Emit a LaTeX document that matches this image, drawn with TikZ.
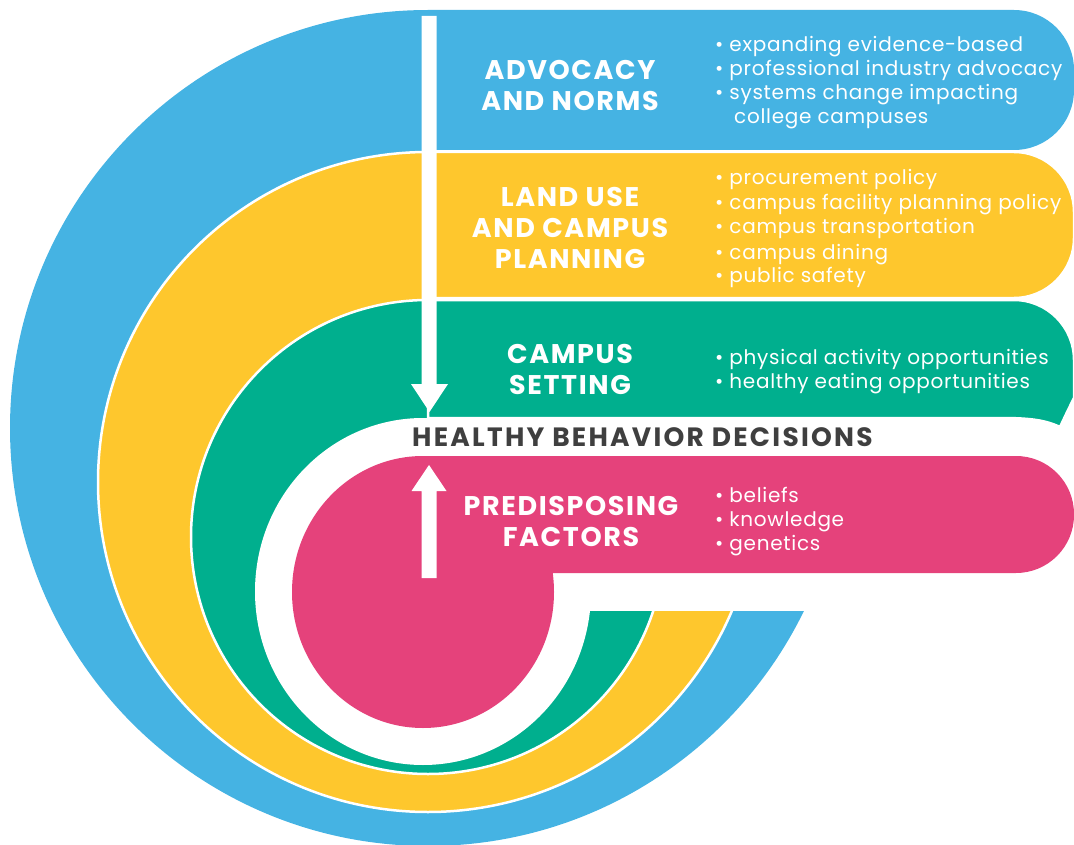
\documentclass[tikz,border=0pt]{standalone}
\usepackage{fontspec}
\setmainfont{Poppins}
\definecolor{cblue}{HTML}{45B3E3}
\definecolor{cyellow}{HTML}{FEC72D}
\definecolor{cgreen}{HTML}{00AF8E}
\definecolor{cpink}{HTML}{E5427B}
\definecolor{cdark}{HTML}{3F3F3F}
\begin{document}
\begin{tikzpicture}[x=1pt,y=-1pt,
  hdr/.style={font=\fontsize{27}{31}\selectfont\bfseries\addfontfeature{LetterSpace=6}, text=white, anchor=base, inner sep=0pt},
  bul/.style={font=\fontsize{20}{24}\selectfont\addfontfeature{LetterSpace=3.5}, text=white, anchor=base west, inner sep=0pt},
  outl/.style={draw=white, line width=2.5pt}]
\useasboundingbox (0,0) rectangle (1074,845);
% ---------- blue layer ----------
\begin{scope}
  \clip (-50,-50) -- (428,-50) -- (428,611) -- (1200,611) -- (1200,900) -- (-50,900) -- cycle;
  \fill[cblue] (428,428) circle[radius=418];
\end{scope}
\fill[cblue] (428,10) -- (1014,10) arc[start angle=-90,end angle=0,radius=60] -- (1074,90) arc[start angle=0,end angle=90,radius=60] -- (428,150) -- cycle;
% ---------- yellow layer ----------
\begin{scope}
  \clip (-50,-50) -- (428,-50) -- (428,611) -- (1200,611) -- (1200,900) -- (-50,900) -- cycle;
  \filldraw[cyellow, outl] (428,482) circle[radius=330];
\end{scope}
\filldraw[fill=cyellow, outl] (428,152) -- (1014,152) arc[start angle=-90,end angle=0,radius=60] -- (1074,238) arc[start angle=0,end angle=90,radius=60] -- (428,298) -- cycle;
% ---------- green layer ----------
\begin{scope}
  \clip (-50,-50) -- (428,-50) -- (428,611) -- (1200,611) -- (1200,900) -- (-50,900) -- cycle;
  \filldraw[fill=cgreen, outl] (428,537) circle[radius=237];
\end{scope}
\filldraw[fill=cgreen, outl] (428,300) -- (1014,300) arc[start angle=-90,end angle=0,radius=60] -- (1074,398) .. controls (1068,410) .. (1060,427) .. controls (1045,420) and (1030,418) .. (1000,418) -- (428,418) -- cycle;
% ---------- white hole ----------
\fill[white] (423,591.5) ellipse[x radius=168, y radius=173.5];
% ---------- pink layer ----------
\fill[cpink] (423,592) ellipse[x radius=131, y radius=136];
\fill[cpink] (423,456) -- (1016,456) arc[start angle=-90,end angle=0,radius=58] -- (1074,515) arc[start angle=0,end angle=90,radius=58] -- (423,573) -- cycle;
% ---------- arrows ----------
\fill[white] (421.5,16) -- (436.5,16) -- (436.5,384) -- (448,384) -- (429.5,412) -- (411,384) -- (421.5,384) -- cycle;
\fill[white] (421.5,578) -- (436.5,578) -- (436.5,491) -- (446.5,491) -- (429,465) -- (411.5,491) -- (421.5,491) -- cycle;
% ---------- headers ----------
\node[hdr] (h1a) at (570,80) {ADVOCACY};
\node[hdr] (h1b) at (570,111) {AND NORMS};
\node[hdr] (h2a) at (570,207) {LAND USE};
\node[hdr] (h2b) at (570,238) {AND CAMPUS};
\node[hdr] (h2c) at (570,269) {PLANNING};
\node[hdr] (h3a) at (570,363) {CAMPUS};
\node[hdr] (h3b) at (570,394) {SETTING};
\node[hdr] (h4a) at (571,515) {PREDISPOSING};
\node[hdr] (h4b) at (571,546) {FACTORS};
\node[hdr, text=cdark, anchor=base west, font=\fontsize{26.5}{30}\selectfont\bfseries\addfontfeature{LetterSpace=8.5}] (hb) at (412,446) {HEALTHY BEHAVIOR DECISIONS};
% ---------- bullets ----------
\node[bul] (b1) at (715,52) {• expanding evidence-based};
\node[bul] (b2) at (715,76) {• professional industry advocacy};
\node[bul] (b3) at (715,100) {• systems change impacting};
\node[bul] (b4) at (734,123.5) {college campuses};
\node[bul] (y1) at (715,185) {• procurement policy};
\node[bul] (y2) at (715,210) {• campus facility planning policy};
\node[bul] (y3) at (715,234) {• campus transportation};
\node[bul] (y4) at (715,259) {• campus dining};
\node[bul] (y5) at (715,283) {• public safety};
\node[bul] (g1) at (715,364) {• physical activity opportunities};
\node[bul] (g2) at (715,388) {• healthy eating opportunities};
\node[bul] (p1) at (715,502) {• beliefs};
\node[bul] (p2) at (715,526) {• knowledge};
\node[bul] (p3) at (715,550) {• genetics};
\end{tikzpicture}
\end{document}
